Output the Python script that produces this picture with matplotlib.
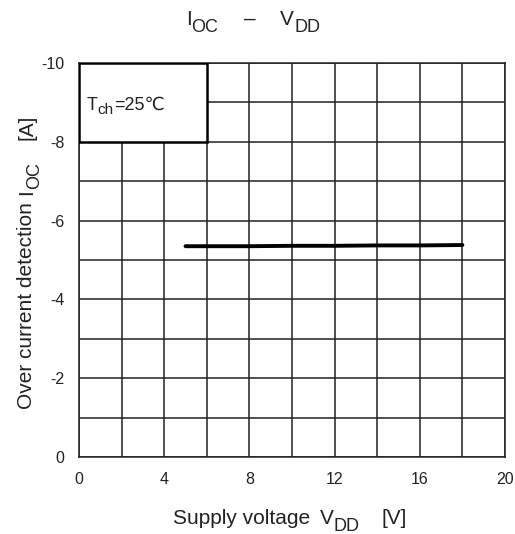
import matplotlib
matplotlib.use("Agg")
import matplotlib.pyplot as plt
from matplotlib.patches import Rectangle
from matplotlib.ticker import MultipleLocator
from matplotlib.transforms import IdentityTransform

plt.rcParams['font.family'] = ['Liberation Sans', 'DejaVu Sans']
plt.rcParams['axes.unicode_minus'] = False

# Supply voltage [V] and over-current detection level [A]
vdd = [5, 8, 10, 12, 14, 16, 18]
ioc = [-5.35, -5.35, -5.36, -5.36, -5.37, -5.37, -5.38]

x_ticks = [0, 4, 8, 12, 16, 20]
y_ticks = [-10, -8, -6, -4, -2, 0]

W, H = 515, 534
fig = plt.figure(figsize=(W / 100, H / 100), dpi=100)
ax = fig.add_axes([79 / W, 1 - 457 / H, 426 / W, 394 / H])

ax.set_xlim(0, 20)
ax.set_ylim(0, -10)
ax.set_xticks(x_ticks)
ax.set_yticks(y_ticks)
ax.xaxis.set_minor_locator(MultipleLocator(2))
ax.yaxis.set_minor_locator(MultipleLocator(1))
ax.grid(which='both', color='#222222', linewidth=1.1, zorder=1)
ax.set_axisbelow(True)
ax.tick_params(which='both', length=0, labelsize=11.5, pad=10.5, colors='#222222')
for s in ax.spines.values():
    s.set_color('#222222')
    s.set_linewidth(1.1)

# Condition box in the upper-left corner
ax.add_patch(Rectangle((0, -8), 6, -2, facecolor='white', edgecolor='black',
                       linewidth=1.8, zorder=3))

ax.plot(vdd, ioc, color='black', linewidth=2.8, solid_capstyle='round', zorder=5)


def put_runs(runs, x, y, rotation=0, center=True):
    """Write text pieces (text, size, baseline shift px, gap px) in a row.

    (x, y) is in figure pixels; the row is centred on x (or on y when
    rotated) unless center is False, in which case it starts there.
    """
    renderer = fig.canvas.get_renderer()
    widths = []
    for s, size, dy, gap in runs:
        t = fig.text(0, 0, s, fontsize=size, transform=IdentityTransform())
        widths.append(t.get_window_extent(renderer).width)
        t.remove()
    total = sum(widths) + sum(r[3] for r in runs)
    pos = -total / 2 if center else 0.0
    for (s, size, dy, gap), w in zip(runs, widths):
        pos += gap
        if rotation == 0:
            px, py = x + pos, y + dy
        else:
            px, py = x - dy, y + pos
        fig.text(px, py, s, fontsize=size, rotation=rotation, ha='left',
                 va='baseline', rotation_mode='anchor', color='#222222',
                 transform=IdentityTransform(), zorder=6)
        pos += w


# Title
put_runs([("I", 15, 0, 0), ("OC", 13, -7, 0), ("–", 15, 0, 26),
          ("V", 15, 0, 24), ("DD", 13, -7, 0)], 253, H - 25)

# Axis labels
put_runs([("Supply voltage", 15, 0, 0), ("V", 15, 0, 9), ("DD", 13, -7, 0),
          ("[V]", 15, 0, 22)], 290, H - 524)
put_runs([("Over current detection", 15, 0, 0), ("I", 15, 0, 8),
          ("OC", 13, -7, 0), ("[A]", 15, 0, 22)], 32, H - 262, rotation=90)

# Temperature condition
put_runs([("T", 13, 0, 0), ("ch", 11, -4, 0), ("=25℃", 13, 0, 0)], 87, H - 110,
         center=False)

fig.savefig('out.png', dpi=100, facecolor='white')
